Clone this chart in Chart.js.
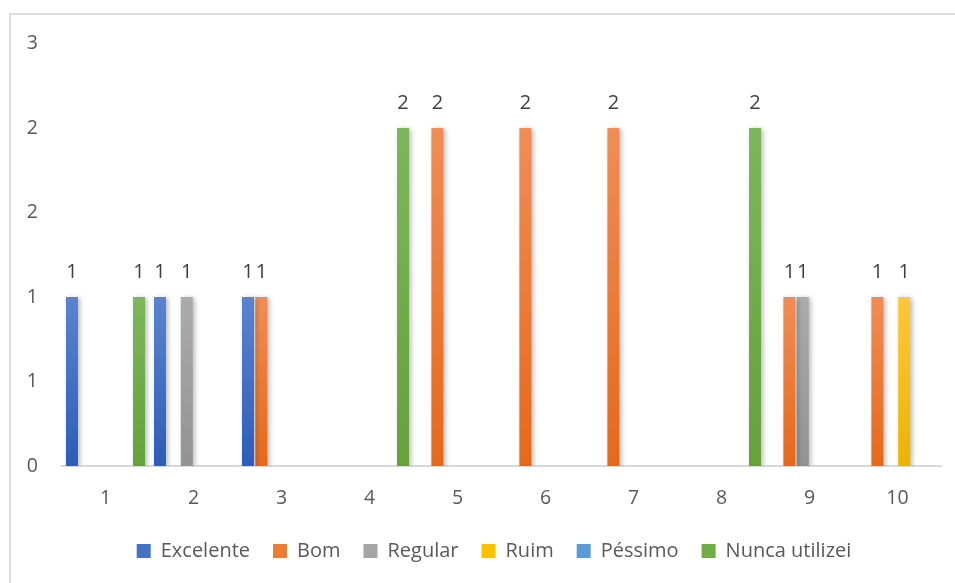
<!DOCTYPE html>
<html>
<head>
<meta charset="utf-8">
<script src="https://cdn.jsdelivr.net/npm/chart.js@4/dist/chart.umd.min.js"></script>
<style>
  html, body { margin: 0; padding: 0; background: #fff; overflow: hidden; }
  #frame { position: absolute; left: 9px; top: 13px; width: 1000px; height: 1000px; border: 2px solid #dcdcdc; }
  #chart { position: absolute; left: 0; top: 0; }
</style>
</head>
<body>
<div id="frame"></div>
<canvas id="chart" width="955" height="583"></canvas>
<script>
// categories and answers per rating
const categories = ['1', '2', '3', '4', '5', '6', '7', '8', '9', '10'];
const seriesNames = ['Excelente', 'Bom', 'Regular', 'Ruim', 'Péssimo', 'Nunca utilizei'];

const excelente = [1, 1, 1, 0, 0, 0, 0, 0, 0, 0];
const bom       = [0, 0, 1, 0, 2, 2, 2, 0, 1, 1];
const regular   = [0, 1, 0, 0, 0, 0, 0, 0, 1, 0];
const ruim      = [0, 0, 0, 0, 0, 0, 0, 0, 0, 1];
const pessimo   = [0, 0, 0, 0, 0, 0, 0, 0, 0, 0];
const nunca     = [1, 0, 0, 2, 0, 0, 0, 2, 0, 0];

const yTicks = [0, 0.5, 1, 1.5, 2, 2.5];

// Excel-ish colors: top (light) / bottom (dark) of the gradient
const colorTop    = ['#5a84d0', '#f18d55', '#ababab', '#ffc73a', '#68a4dc', '#7db65c'];
const colorBottom = ['#2c5db8', '#e5691a', '#939393', '#ebb400', '#4a8ccc', '#64a23a'];
const colorFlat   = ['#4472c4', '#ed7d31', '#a5a5a5', '#ffc000', '#5b9bd5', '#70ad47'];

const FONT = '"Open Sans", "Noto Sans", sans-serif';

function barFill(i) {
    return (c) => {
        const chart = c.chart;
        if (!chart.chartArea || c.type !== 'data' || !c.raw) return colorFlat[i];
        const y = chart.scales.y;
        const top = y.getPixelForValue(c.raw);
        const base = y.getPixelForValue(0);
        const g = chart.ctx.createLinearGradient(0, top, 0, base);
        g.addColorStop(0, colorTop[i]);
        g.addColorStop(1, colorBottom[i]);
        return g;
    };
}

const allSeries = [excelente, bom, regular, ruim, pessimo, nunca];

const datasets = allSeries.map((vals, i) => ({
    label: seriesNames[i],
    data: vals,
    backgroundColor: barFill(i),
    borderWidth: 0,
    categoryPercentage: 0.914,
    barPercentage: 0.895
}));

// shadow under bars + value labels on top, legend nudged to the right
const barExtras = {
    id: 'barExtras',
    afterLayout(chart) {
        if (chart.legend) chart.legend.left = 46.5;
    },
    beforeDatasetsDraw(chart) {
        const ctx = chart.ctx;
        ctx.save();
        ctx.shadowColor = 'rgba(0,0,0,0.28)';
        ctx.shadowBlur = 5;
        ctx.shadowOffsetX = 2;
        ctx.shadowOffsetY = 1;
    },
    afterDatasetsDraw(chart) {
        const ctx = chart.ctx;
        ctx.restore();
        ctx.save();
        ctx.font = '20px ' + FONT;
        ctx.fillStyle = '#404040';
        ctx.textAlign = 'center';
        ctx.textBaseline = 'middle';
        chart.data.datasets.forEach((ds, i) => {
            const meta = chart.getDatasetMeta(i);
            meta.data.forEach((bar, j) => {
                const v = ds.data[j];
                if (!v) return;
                ctx.fillText(String(v), bar.x, bar.y - 25);
            });
        });
        ctx.restore();
    }
};

new Chart(document.getElementById('chart'), {
    type: 'bar',
    data: { labels: categories, datasets: datasets },
    options: {
        responsive: false,
        animation: false,
        devicePixelRatio: 1,
        layout: { padding: { left: 10, right: 13.5, top: 43.5, bottom: 12 } },
        plugins: {
            legend: {
                position: 'bottom',
                labels: {
                    boxWidth: 14,
                    boxHeight: 14,
                    padding: 23,
                    color: '#595959',
                    font: { family: FONT, size: 20 },
                    generateLabels: (chart) => seriesNames.map((name, i) => ({
                        text: name,
                        fillStyle: colorFlat[i],
                        strokeStyle: colorFlat[i],
                        lineWidth: 0,
                        datasetIndex: i,
                        fontColor: '#595959'
                    }))
                }
            },
            tooltip: { enabled: false }
        },
        scales: {
            x: {
                grid: { display: false, drawTicks: false },
                border: { display: true, color: '#d9d9d9', width: 2 },
                ticks: { color: '#595959', font: { family: FONT, size: 19.5 }, padding: 20.5 },
                afterFit: (s) => { s.height = 52; }
            },
            y: {
                min: 0,
                max: 2.5,
                afterBuildTicks: (s) => { s.ticks = yTicks.map(v => ({ value: v })); },
                grid: { display: false, drawTicks: false },
                border: { display: false },
                ticks: {
                    color: '#595959',
                    font: { family: FONT, size: 19.5 },
                    padding: 23.5,
                    callback: (v) => String(Math.round(v))
                },
                afterFit: (s) => { s.width = 51.5; }
            }
        }
    },
    plugins: [barExtras]
});
</script>
</body>
</html>
